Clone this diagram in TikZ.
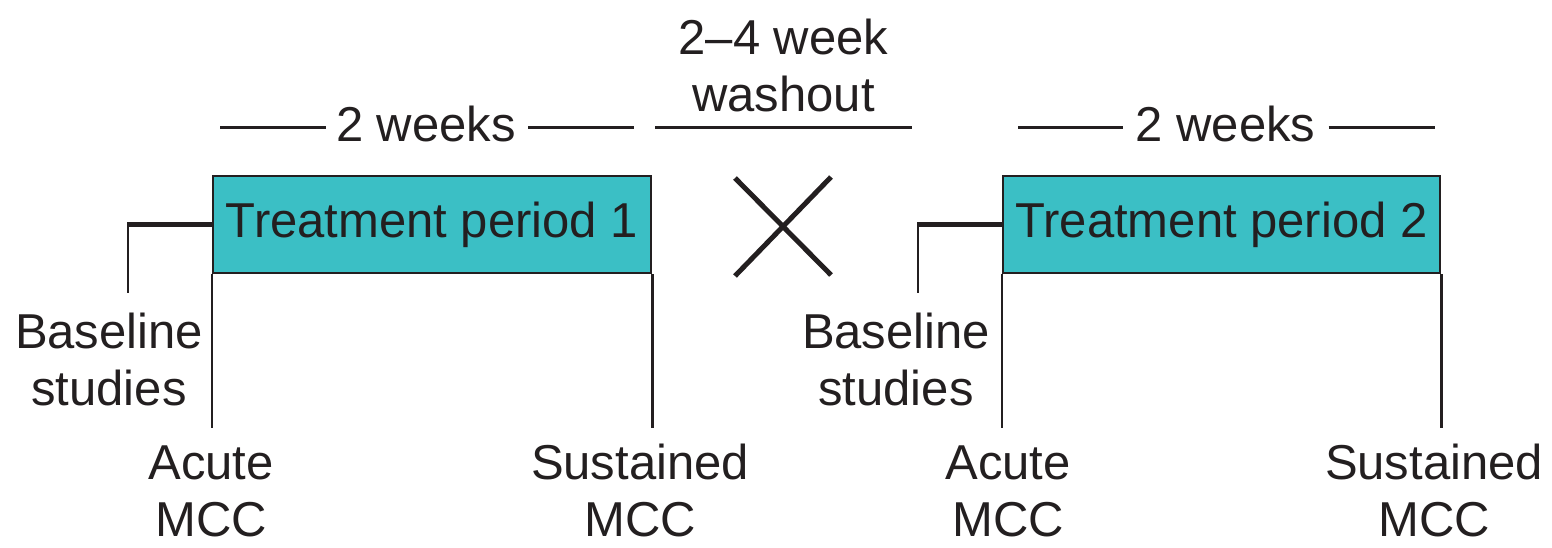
\documentclass[tikz,border=0pt]{standalone}
\usepackage{fontspec}
\setmainfont{Liberation Sans}
\definecolor{tealfill}{HTML}{3BBFC5}
\definecolor{ink}{HTML}{231F20}
\begin{document}
\begin{tikzpicture}[x=1pt,y=-1pt,
  lbl/.style={font=\fontsize{49}{57}\selectfont, text=ink, inner sep=0pt, align=center, anchor=base},
  period/.style={draw=ink, line width=2.5pt, fill=tealfill, minimum height=97pt, inner sep=0pt,
    font=\fontsize{49}{57}\selectfont, text=ink},
  rule/.style={draw=ink, line width=3pt},
  thinline/.style={draw=ink, line width=2.5pt},
  thickline/.style={draw=ink, line width=4.5pt},
  cross/.style={draw=ink, line width=5pt}]
\useasboundingbox (0,0) rectangle (1552,548);

% treatment boxes
\node[period, minimum width=438pt] (tp1) at (432,224.5) {Treatment period 1};
\node[period, minimum width=437pt] (tp2) at (1221.5,224.5) {Treatment period 2};

% baseline connectors
\coordinate (b1t) at (128,224.5);
\coordinate (b1) at (128,293);
\coordinate (b2t) at (918,224.5);
\coordinate (b2) at (918,293);
\draw[thickline] (tp1.west) -- ([xshift=-1.25pt]b1t);
\draw[thinline] (b1t) -- (b1);
\draw[thickline] (tp2.west) -- ([xshift=-1.25pt]b2t);
\draw[thinline] (b2t) -- (b2);

% measurement lines down
\coordinate (a1) at (tp1.south west |- 0,428);
\coordinate (s1) at (tp1.south east |- 0,428);
\coordinate (a2) at (tp2.south west |- 0,428);
\coordinate (s2) at (tp2.south east |- 0,428);
\draw[thinline] (tp1.south west) -- (a1);
\draw[thinline] (tp1.south east) -- (s1);
\draw[thinline] (tp2.south west) -- (a2);
\draw[thinline] (tp2.south east) -- (s2);

% 2 weeks labels
\node[lbl] (w1) at (426,142) {2 weeks};
\coordinate (w1l) at (220,128);
\coordinate (w1r) at (634,128);
\draw[rule] (w1l) -- ([xshift=-10pt]w1.west |- w1l);
\draw[rule] ([xshift=12pt]w1.east |- w1r) -- (w1r);
\node[lbl] (w2) at (1225.5,142) {2 weeks};
\coordinate (w2l) at (1018,128);
\coordinate (w2r) at (1435,128);
\draw[rule] (w2l) -- ([xshift=-12pt]w2.west |- w2l);
\draw[rule] ([xshift=13pt]w2.east |- w2r) -- (w2r);

% washout
\node[lbl] (wo) at (783.5,112) {2–4 week\\washout};
\coordinate (wol) at (655,128);
\coordinate (wor) at (912,128);
\draw[rule] (wol) -- (wor);

% cross
\coordinate (x1) at (735,178);
\coordinate (x2) at (831,275);
\coordinate (x3) at (831,177);
\coordinate (x4) at (735,276);
\draw[cross] (x1) -- (x2);
\draw[cross] (x3) -- (x4);

% bottom labels
\node[lbl] (bs1) at (109,405) {Baseline\\studies};
\node[lbl] (bs2) at (896,405) {Baseline\\studies};
\node[lbl] (ac1) at (211,536) {Acute\\MCC};
\node[lbl] (su1) at (640,536) {Sustained\\MCC};
\node[lbl] (ac2) at (1008,536) {Acute\\MCC};
\node[lbl] (su2) at (1434,536) {Sustained\\MCC};
\end{tikzpicture}
\end{document}
